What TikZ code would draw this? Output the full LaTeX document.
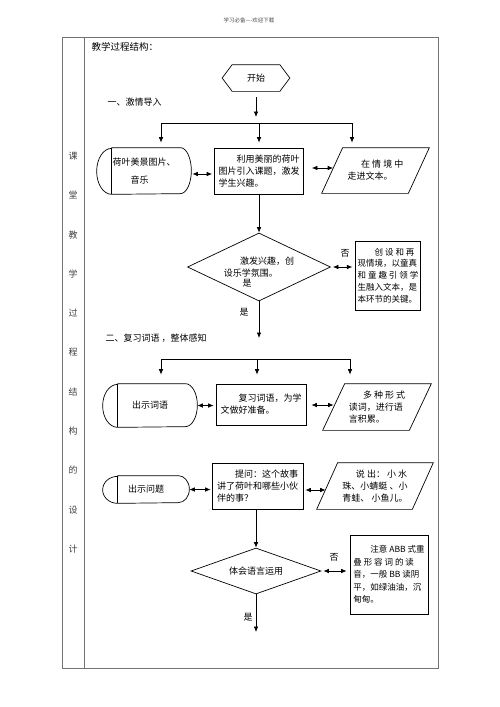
\documentclass[tikz,border=0pt]{standalone}
\usepackage{fontspec}
\setmainfont{Noto Sans CJK SC}
\usetikzlibrary{shapes.geometric,arrows.meta}

\begin{document}
\begin{tikzpicture}[x=1pt,y=-1pt,>={Latex[length=5.5pt,width=4.5pt]},line width=0.7pt,
  font=\fontsize{9}{12}\selectfont,
  box/.style={draw,rectangle,inner sep=2pt,align=left},
  cond/.style={draw,diamond,inner sep=0pt,aspect=2.2,align=left},
  plain/.style={inner sep=0pt,align=left},
  grid/.style={draw=black!55,line width=0.6pt}]
\useasboundingbox (0,0) rectangle (500,707);

%% page frame
\node[text=black!70,font=\fontsize{5.5}{6}\selectfont] (hdr) at (249,20) {学习必备----欢迎下载};
\draw[grid] (62,37) rectangle (438,668);
\draw[grid] (84,37) -- (84,668);
\foreach \c [count=\i from 0] in {课,堂,教,学,过,程,结,构,的,设,计}
  \node[text=black!75] (c\i) at (73,{156+39.3*\i}) {\c};
\node[anchor=west,font=\fontsize{9.5}{12}\selectfont] (title) at (88,47) {教学过程结构：};

%% start
\node[plain,minimum width=67pt,minimum height=26pt] (s0) at (256,78) {开始};
\draw (s0.west) -- ([xshift=10pt]s0.north west) -- ([xshift=-10pt]s0.north east)
  -- (s0.east) -- ([xshift=-10pt]s0.south east) -- ([xshift=10pt]s0.south west) -- cycle;

%% part one
\node[anchor=west] (sec1) at (104,102) {一、激情导入};

\node[plain,minimum width=94pt,minimum height=46pt] (w1) at (144,171) {荷叶美景图片、\\[6pt]\hspace*{2em}音乐};
\draw ([xshift=15pt]w1.north west) -- ([xshift=-11pt]w1.north east)
  arc[start angle=90,end angle=-90,x radius=11pt,y radius=23pt]
  -- ([xshift=15pt]w1.south west)
  arc[start angle=270,end angle=90,x radius=15pt,y radius=23pt] -- cycle;
\draw ([xshift=15pt]w1.north west) -- ([xshift=15pt]w1.south west);

\node[box,minimum width=89pt,minimum height=46pt] (b2) at (259,171) {\hspace*{2em}利用美丽的荷叶\\图片引入课题，激发\\学生兴趣。};

\node[plain,minimum width=107pt,minimum height=45pt] (p3) at (375.5,170.5) {\hspace*{1.5em}在 情 境 中\\走进文本。};
\draw ([xshift=21pt]p3.north west) -- (p3.north east) -- ([xshift=-21pt]p3.south east) -- (p3.south west) -- cycle;
\coordinate (p3w) at ([xshift=11.5pt,yshift=2.5pt]p3.west);

\coordinate (j1) at (259,123);
\coordinate (j1l) at (161,123);
\coordinate (j1r) at (352,123);
\draw[->,shorten <=6pt,shorten >=6pt] (s0.south) -- (s0.south |- j1);
\draw (j1l) -- (j1r);
\draw[->,shorten >=5pt] (j1l) -- (j1l |- w1.north);
\draw[->,shorten >=5pt] (j1) -- (j1 |- b2.north);
\draw[->,shorten >=5pt] (j1r) -- (j1r |- p3.north);

\draw[<->,shorten <=1pt,shorten >=2pt] ([yshift=-3pt]w1.east) -- ([yshift=-3pt]b2.west);
\draw[<->,shorten <=8pt] (p3w -| b2.east) -- (p3w);

\node[cond,minimum width=143pt,minimum height=68pt] (d1) at (259,267) {\hspace*{1.8em}激发兴趣，创\\设乐学氛围。};
\node[plain] (y0) at (247,283) {是};
\draw[->] (b2.south) -- (d1.north);

\node[box,minimum width=64pt,minimum height=69pt,font=\fontsize{8.5}{11.8}\selectfont] (b4) at (388,275.5)
  {\hspace*{2em}创 设 和 再\\现情境，以童真\\和 童 趣 引 领 学\\生融入文本，是\\本环节的关键。};
\node[plain] (n1) at (345,253) {否};
\draw[<->,shorten <=2pt,shorten >=3pt] (d1.east) -- (d1.east -| b4.west);

\node[plain] (y1) at (244,312) {是};
\coordinate (e1) at (259,338);
\draw[->] (d1.south) -- (e1);

%% part two
\node[anchor=west] (sec2) at (102,338) {二、复习词语 ，整体感知};

\node[plain,minimum width=94pt,minimum height=43pt] (w5) at (150,405.5) {出示词语};
\draw ([xshift=15pt]w5.north west) -- ([xshift=-12pt]w5.north east)
  arc[start angle=90,end angle=-90,x radius=12pt,y radius=21.5pt]
  -- ([xshift=15pt]w5.south west)
  arc[start angle=270,end angle=90,x radius=15pt,y radius=21.5pt] -- cycle;
\draw ([xshift=15pt]w5.north west) -- ([xshift=15pt]w5.south west);

\node[box,minimum width=90pt,minimum height=41pt] (b6) at (261,404.5) {\hspace*{2em}复习词语，为学\\文做好准备。};

\node[plain,minimum width=108pt,minimum height=46pt] (p7) at (377,407) {\hspace*{1.6em}多 种 形 式\\读词，进行语\\言积累。};
\draw ([xshift=22pt]p7.north west) -- (p7.north east) -- ([xshift=-22pt]p7.south east) -- (p7.south west) -- cycle;
\coordinate (p7w) at ([xshift=11pt,yshift=2pt]p7.west);

\coordinate (j2) at (257,359);
\coordinate (j2l) at (161,359);
\coordinate (j2r) at (350,359);
\draw (j2l) -- (j2r);
\draw[->,shorten >=9pt] (j2l) -- (j2l |- w5.north);
\draw[->,shorten >=9pt] (j2) -- (j2 |- b6.north);
\draw[->,shorten >=9pt] (j2r) -- (j2r |- p7.north);

\draw[<->,shorten >=2pt] (w5.east) -- (w5.east -| b6.west);
\draw[<->,shorten <=5pt] (p7w -| b6.east) -- (p7w);

%% part three
\node[plain,minimum width=86pt,minimum height=27pt] (w8) at (146,489.5) {出示问题};
\draw ([xshift=15pt]w8.north west) -- ([xshift=-11pt]w8.north east)
  arc[start angle=90,end angle=-90,x radius=11pt,y radius=13.5pt]
  -- ([xshift=15pt]w8.south west)
  arc[start angle=270,end angle=90,x radius=15pt,y radius=13.5pt] -- cycle;
\draw ([xshift=15pt]w8.north west) -- ([xshift=15pt]w8.south west);

\node[box,minimum width=91pt,minimum height=46pt] (b9) at (257.5,486) {\hspace*{2em}提问：这个故事\\讲了荷叶和哪些小伙\\伴的事？};

\node[plain,minimum width=116pt,minimum height=46pt] (p10) at (375,486) {\hspace*{1.5em}说 出： 小 水\\珠、小蜻蜓 、小\\青蛙、 小鱼儿。};
\draw ([xshift=21pt]p10.north west) -- (p10.north east) -- ([xshift=-21pt]p10.south east) -- (p10.south west) -- cycle;
\coordinate (p10w) at ([xshift=9pt,yshift=-4pt]p10.west);

\draw[<->,shorten >=1pt] (w8.east) -- (w8.east -| b9.west);
\draw[<->,shorten <=2pt] (p10w -| b9.east) -- (p10w);

\node[cond,minimum width=130pt,minimum height=46pt] (d2) at (256,571) {体会语言运用};
\draw[->] (d2.north |- b9.south) -- (d2.north);

\node[box,minimum width=78pt,minimum height=79pt,font=\fontsize{8.5}{12.4}\selectfont] (b11) at (389,574.5)
  {\hspace*{2em}注意 ABB 式重\\叠 形 容 词 的 读\\音，一般 BB 读阴\\平，如绿油油，沉\\甸甸。};
\node[plain] (n2) at (334,557) {否};
\draw[<->,shorten <=2pt,shorten >=3pt] (d2.east) -- (d2.east -| b11.west);

\node[plain] (y2) at (248,617) {是};
\coordinate (e2) at (256,632);
\draw[->] (d2.south) -- (e2);

\end{tikzpicture}
\end{document}
